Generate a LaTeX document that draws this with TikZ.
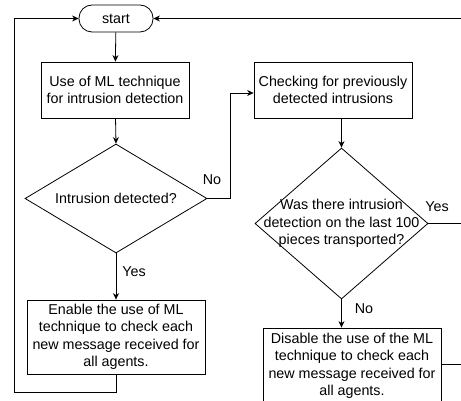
\documentclass[tikz,border=0pt]{standalone}
\usepackage{fontspec}
\setmainfont{Liberation Sans}
\usetikzlibrary{shapes.geometric,arrows.meta}
\begin{document}
\begin{tikzpicture}[x=1pt,y=-1pt,
  every node/.style={font=\fontsize{14.3}{17.5}\selectfont, inner sep=0pt},
  flow/.style={draw, line width=0.8pt},
  arr/.style={flow, -{Stealth[length=6.5pt,width=6pt]}},
  procbox/.style={draw, line width=0.8pt, align=center},
  termbox/.style={draw, line width=0.8pt, rounded corners=13pt, minimum width=74pt, minimum height=27pt},
  decision/.style={draw, line width=0.8pt, diamond},
  lbl/.style={align=center}]
\clip (0,0) rectangle (461,401);
\fill[white] (0,0) rectangle (461,401);

% terminal and process boxes
\node[termbox] (start) at (116,18.5) {start};
\node[procbox, minimum width=148pt, minimum height=56pt] (ml) at (115,90)
  {Use of ML technique\\for intrusion detection};
\node[procbox, minimum width=158pt, minimum height=56pt] (check) at (333,90)
  {Checking for previously\\detected intrusions};
\node[procbox, minimum width=178pt, minimum height=74pt] (enable) at (116,337)
  {Enable the use of ML\\technique to check each\\new message received for\\all agents.};
\node[procbox, minimum width=178pt, minimum height=76pt] (disable) at (352,366)
  {Disable the use of the ML\\technique to check each\\new message received for\\all agents.};

% decisions
\node[decision, minimum width=182pt, minimum height=109pt] (d1) at (116,198.5) {};
\node[lbl] (d1t) at (d1.center) {Intrusion detected?};
\node[decision, minimum width=173pt, minimum height=151pt] (d2) at (341.5,223.5) {};
\node[lbl] (d2t) at (d2.center) {Was there intrusion\\detection on the last 100\\pieces transported?};

% loose ends running off the right and bottom
\coordinate (rtop) at (470,18.5);
\coordinate (ryes) at (470,223.5);
\coordinate (rdis) at (470,364);
\coordinate (loopc) at (14,392);

% connectors
\draw[arr] (start) -- (ml);
\draw[arr] (ml) -- (d1.north);
\draw[arr] (d1.east) -- (230,198.5) -- (230,93) -- (check.west |- 0,93);
\draw[arr] (check.south -| d2.north) -- (d2.north);
\draw[arr] (d1.south) -- (enable.north);
\draw[arr] (d2.south) -- (d2.south |- disable.north);
\draw[arr] (enable.south) -- (enable.south |- loopc) -- (loopc) -- (14,18.5) -- (start.west);
\draw[arr] (rtop) -- (start.east);
\draw[flow] (d2.east) -- (ryes);
\draw[flow] (disable.east |- rdis) -- (rdis);

% branch labels
\node (no1) at (212,180) {No};
\node (yes1) at (134,272) {Yes};
\node (yes2) at (437,207) {Yes};
\node (no2) at (364,309) {No};
\end{tikzpicture}
\end{document}
